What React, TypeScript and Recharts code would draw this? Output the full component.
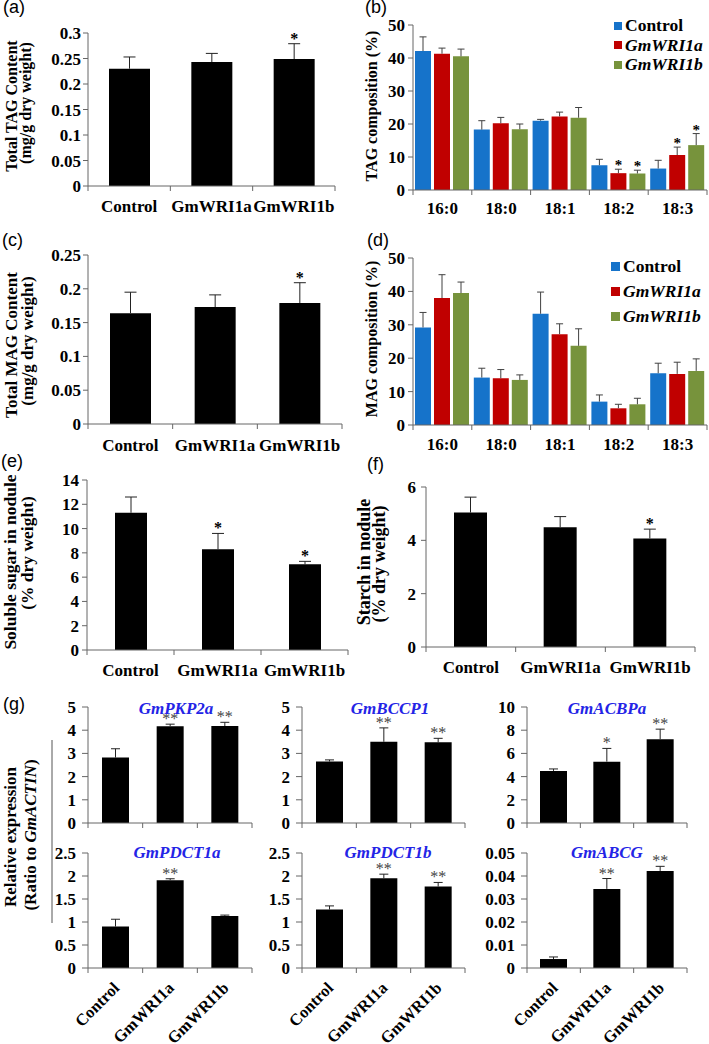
import React from "react";
import { BarChart, Bar, XAxis, YAxis, LabelList, Legend } from "recharts";

const SERIF = "'Liberation Serif', 'Times New Roman', Times, serif";
const SANS = "'Liberation Sans', Arial, Helvetica, sans-serif";
const AXIS = "#666";

// ---------- categories ----------
const genotypes = ["Control", "GmWRI1a", "GmWRI1b"];
const fattyAcids = ["16:0", "18:0", "18:1", "18:2", "18:3"];
const seriesColors = ["#1673CA", "#C00000", "#77933C"];

// ---------- (a) total TAG ----------
const tagTotal = [0.23, 0.243, 0.249];
const tagTotalErr = [0.023, 0.017, 0.03];
const tagTotalSig = ["", "", "*"];
const tagTicks = [0, 0.05, 0.1, 0.15, 0.2, 0.25, 0.3];

// ---------- (b) TAG composition ----------
const tagCtrl = [42.1, 18.3, 21.0, 7.5, 6.5];
const tagCtrlErr = [4.3, 2.7, 0.4, 1.8, 2.5];
const tagCtrlSig = ["", "", "", "", ""];
const tagWa = [41.3, 20.2, 22.3, 5.1, 10.6];
const tagWaErr = [1.7, 1.8, 1.3, 1.2, 2.4];
const tagWaSig = ["", "", "", "*", "*"];
const tagWb = [40.5, 18.4, 21.9, 5.0, 13.6];
const tagWbErr = [2.2, 1.6, 3.1, 1.0, 3.5];
const tagWbSig = ["", "", "", "*", "*"];
const pctTicks = [0, 10, 20, 30, 40, 50];

// ---------- (c) total MAG ----------
const magTotal = [0.164, 0.173, 0.179];
const magTotalErr = [0.031, 0.018, 0.03];
const magTotalSig = ["", "", "*"];
const magTicks = [0, 0.05, 0.1, 0.15, 0.2, 0.25];

// ---------- (d) MAG composition ----------
const magCtrl = [29.2, 14.2, 33.3, 7.0, 15.5];
const magCtrlErr = [4.5, 2.8, 6.5, 2.0, 3.0];
const magCtrlSig = ["", "", "", "", ""];
const magWa = [38.0, 14.0, 27.2, 5.0, 15.3];
const magWaErr = [7.0, 2.6, 3.1, 1.2, 3.5];
const magWaSig = ["", "", "", "", ""];
const magWb = [39.5, 13.5, 23.7, 6.2, 16.2];
const magWbErr = [3.3, 1.5, 5.1, 1.8, 3.6];
const magWbSig = ["", "", "", "", ""];

// ---------- (e) soluble sugar ----------
const sugar = [11.3, 8.3, 7.06];
const sugarErr = [1.3, 1.3, 0.24];
const sugarSig = ["", "*", "*"];
const sugarTicks = [0, 2, 4, 6, 8, 10, 12, 14];

// ---------- (f) starch ----------
const starch = [5.04, 4.49, 4.07];
const starchErr = [0.58, 0.4, 0.35];
const starchSig = ["", "", "*"];
const starchTicks = [0, 2, 4, 6];

// ---------- (g) relative expression ----------
const pkp2a = [2.82, 4.17, 4.18];
const pkp2aErr = [0.38, 0.09, 0.16];
const pkp2aSig = ["", "**", "**"];
const bccp1 = [2.65, 3.5, 3.48];
const bccp1Err = [0.07, 0.6, 0.17];
const bccp1Sig = ["", "**", "**"];
const acbpa = [4.49, 5.29, 7.23];
const acbpaErr = [0.17, 1.14, 0.86];
const acbpaSig = ["", "*", "**"];
const pdct1a = [0.9, 1.91, 1.13];
const pdct1aErr = [0.16, 0.03, 0.02];
const pdct1aSig = ["", "**", ""];
const pdct1b = [1.27, 1.95, 1.77];
const pdct1bErr = [0.08, 0.09, 0.09];
const pdct1bSig = ["", "**", "**"];
const abcg = [0.0039, 0.0344, 0.0422];
const abcgErr = [0.0009, 0.0045, 0.002];
const abcgSig = ["", "**", "**"];
const ticks5 = [0, 1, 2, 3, 4, 5];
const ticks10 = [0, 2, 4, 6, 8, 10];
const ticks25 = [0, 0.5, 1, 1.5, 2, 2.5];
const ticks05 = [0, 0.01, 0.02, 0.03, 0.04, 0.05];

// ---------- helpers ----------
type Plot = { l: number; r: number; t: number; b: number };
const TOPM = 20;
const TICK_FONT = { fill: "#000", fontSize: 17, fontWeight: 700, fontFamily: SERIF };

const singleRows = (cats: string[], v: number[], e: number[], s: string[]) =>
  cats.map((name, i) => ({ name, v: v[i], e: e[i], s: s[i] }));

const multiRows = (
  cats: string[],
  c: number[], ce: number[], cs: string[],
  a: number[], ae: number[], as: string[],
  b: number[], be: number[], bs: string[]
) =>
  cats.map((name, i) => ({
    name,
    c: c[i], ce: ce[i], cs: cs[i],
    a: a[i], ae: ae[i], as: as[i],
    b: b[i], be: be[i], bs: bs[i],
  }));

type WOpts = { stroke: string; cap: number; starSize: number; starWeight: number; starColor: string; starDy: number };

function whisker(rows: any[], vKey: string, eKey: string, sKey: string, o: WOpts) {
  return (p: any) => {
    const vb = p.viewBox && p.viewBox.width !== undefined ? p.viewBox : p;
    const x = Number(vb.x), y = Number(vb.y), w = Number(vb.width), h = Number(vb.height);
    const r = rows[p.index];
    if (!r || !isFinite(x) || !isFinite(y)) return null;
    const v = r[vKey], e = r[eKey], s = r[sKey];
    const k = v ? h / v : 0;
    const top = y - e * k;
    const cx = x + w / 2;
    return (
      <g>
        <line x1={cx} y1={y} x2={cx} y2={top} stroke={o.stroke} strokeWidth={1} />
        <line x1={cx - o.cap} y1={top} x2={cx + o.cap} y2={top} stroke={o.stroke} strokeWidth={1} />
        {s ? (
          <text x={cx} y={top + o.starDy} textAnchor="middle" fill={o.starColor}
            style={{ fontFamily: SERIF, fontSize: o.starSize, fontWeight: o.starWeight }}>
            {s}
          </text>
        ) : null}
      </g>
    );
  };
}

function makeCatTick(bw: number, n: number, mode: "none" | "flat" | "rot", dy: number) {
  return (p: any) => {
    const x = Number(p.x), y = Number(p.y);
    const i = p.index;
    const label = p.payload ? p.payload.value : "";
    const flat = { fontFamily: SERIF, fontSize: 17, fontWeight: 700 } as React.CSSProperties;
    const rot = { fontFamily: SERIF, fontSize: 16.5, fontWeight: 700 } as React.CSSProperties;
    return (
      <g>
        <line x1={x - bw / 2} y1={y} x2={x - bw / 2} y2={y + 5} stroke={AXIS} />
        {i === n - 1 ? <line x1={x + bw / 2} y1={y} x2={x + bw / 2} y2={y + 5} stroke={AXIS} /> : null}
        {mode === "flat" ? (
          <text x={x} y={y + dy} textAnchor="middle" fill="#000" style={flat}>{label}</text>
        ) : null}
        {mode === "rot" ? (
          <text transform={`translate(${x + 5},${y + 21}) rotate(-45)`} textAnchor="end" fill="#000" style={rot}>
            {label}
          </text>
        ) : null}
      </g>
    );
  };
}

type SingleProps = {
  plot: Plot; rows: any[]; domain: [number, number]; ticks: number[];
  barSize: number; yW: number; xH: number; mode: "none" | "flat" | "rot"; dy: number;
  tickSize: number; tickMargin: number; w: WOpts;
};

function SinglePanel(P: SingleProps) {
  const pw = P.plot.r - P.plot.l, ph = P.plot.b - P.plot.t;
  const rightM = 4;
  const width = P.yW + pw + rightM;
  const height = TOPM + ph + P.xH;
  const bw = pw / P.rows.length;
  return (
    <div style={{ position: "absolute", left: P.plot.l - P.yW, top: P.plot.t - TOPM }}>
      <BarChart width={width} height={height} data={P.rows} margin={{ top: TOPM, right: rightM, bottom: 0, left: 0 }}>
        <XAxis dataKey="name" interval={0} height={P.xH} axisLine={{ stroke: AXIS }} tickLine={false}
          tickSize={0} tickMargin={0} tick={makeCatTick(bw, P.rows.length, P.mode, P.dy)} />
        <YAxis type="number" domain={P.domain} ticks={P.ticks} interval={0} width={P.yW}
          tickSize={P.tickSize} tickMargin={P.tickMargin} axisLine={{ stroke: AXIS }} tickLine={{ stroke: AXIS }}
          tick={TICK_FONT} />
        <Bar dataKey="v" fill="#000" barSize={P.barSize} isAnimationActive={false}>
          <LabelList dataKey="v" content={whisker(P.rows, "v", "e", "s", P.w)} />
        </Bar>
      </BarChart>
    </div>
  );
}

type MultiProps = {
  plot: Plot; rows: any[]; dy: number; legendLeft: number; legendTop: number; rowH: number; sq: number;
};

const wColor: WOpts = { stroke: "#404040", cap: 3.5, starSize: 15, starWeight: 700, starColor: "#000", starDy: 1 };

function MultiPanel(P: MultiProps) {
  const yW = 60;
  const rightM = 2;
  const pw = P.plot.r - P.plot.l, ph = P.plot.b - P.plot.t;
  const width = yW + pw + rightM;
  const height = TOPM + ph + 40;
  const bw = pw / P.rows.length;
  const keys = ["c", "a", "b"];
  const legend = () => (
    <div style={{ fontFamily: SERIF, fontWeight: 700, fontSize: 17.5, color: "#000" }}>
      {genotypes.map((nm, i) => (
        <div key={nm} style={{ display: "flex", alignItems: "center", height: P.rowH, whiteSpace: "nowrap" }}>
          <span style={{ display: "inline-block", width: P.sq, height: P.sq, background: seriesColors[i], marginRight: 3 }} />
          <span style={{ fontStyle: i === 0 ? "normal" : "italic" }}>{nm}</span>
        </div>
      ))}
    </div>
  );
  return (
    <div style={{ position: "absolute", left: P.plot.l - yW, top: P.plot.t - TOPM }}>
      <BarChart width={width} height={height} data={P.rows} barGap={3} barCategoryGap={2}
        margin={{ top: TOPM, right: rightM, bottom: 0, left: 0 }}>
        <XAxis dataKey="name" interval={0} height={40} axisLine={{ stroke: AXIS }} tickLine={false}
          tickSize={0} tickMargin={0} tick={makeCatTick(bw, P.rows.length, "flat", P.dy)} />
        <YAxis type="number" domain={[0, 50]} ticks={pctTicks} interval={0} width={yW}
          tickSize={5} tickMargin={3} axisLine={{ stroke: AXIS }} tickLine={{ stroke: AXIS }}
          tick={TICK_FONT} />
        <Legend layout="vertical" align="center" verticalAlign="middle" content={legend}
          wrapperStyle={{ left: P.legendLeft, top: P.legendTop, width: 110 }} />
        {keys.map((k, i) => (
          <Bar key={k} dataKey={k} name={genotypes[i]} fill={seriesColors[i]} barSize={16} isAnimationActive={false}>
            <LabelList dataKey={k} content={whisker(P.rows, k, k + "e", k + "s", wColor)} />
          </Bar>
        ))}
      </BarChart>
    </div>
  );
}

const wBlack: WOpts = { stroke: "#222", cap: 6, starSize: 16, starWeight: 700, starColor: "#000", starDy: 0 };
const wG: WOpts = { stroke: "#222", cap: 4.5, starSize: 16, starWeight: 400, starColor: "#444", starDy: 0 };

const gCols = [
  { l: 88, r: 252 },
  { l: 302, r: 465 },
  { l: 527, r: 687 },
];
const gRow1 = { t: 707, b: 823 };
const gRow2 = { t: 853, b: 968 };

const gCharts = [
  { col: 0, row: 1, v: pkp2a, e: pkp2aErr, s: pkp2aSig, dom: [0, 5] as [number, number], ticks: ticks5, title: "GmPKP2a", tx: 176 },
  { col: 1, row: 1, v: bccp1, e: bccp1Err, s: bccp1Sig, dom: [0, 5] as [number, number], ticks: ticks5, title: "GmBCCP1", tx: 390 },
  { col: 2, row: 1, v: acbpa, e: acbpaErr, s: acbpaSig, dom: [0, 10] as [number, number], ticks: ticks10, title: "GmACBPa", tx: 607 },
  { col: 0, row: 2, v: pdct1a, e: pdct1aErr, s: pdct1aSig, dom: [0, 2.5] as [number, number], ticks: ticks25, title: "GmPDCT1a", tx: 177 },
  { col: 1, row: 2, v: pdct1b, e: pdct1bErr, s: pdct1bSig, dom: [0, 2.5] as [number, number], ticks: ticks25, title: "GmPDCT1b", tx: 388 },
  { col: 2, row: 2, v: abcg, e: abcgErr, s: abcgSig, dom: [0, 0.05] as [number, number], ticks: ticks05, title: "GmABCG", tx: 607 },
];

const boldSerif = (size: number): React.CSSProperties => ({ fontFamily: SERIF, fontWeight: 700, fontSize: size });

function RotLabel({ x, y, size, children }: { x: number; y: number; size: number; children: React.ReactNode }) {
  return (
    <text transform={`translate(${x},${y}) rotate(-90)`} textAnchor="middle" fill="#000" style={boldSerif(size)}>
      {children}
    </text>
  );
}

export default function App() {
  return (
    <div style={{ position: "absolute", left: 0, top: 0, width: 709, height: 1044, background: "#fff", overflow: "hidden" }}>
      {/* (a) */}
      <SinglePanel plot={{ l: 88, r: 335, t: 33, b: 186 }} rows={singleRows(genotypes, tagTotal, tagTotalErr, tagTotalSig)}
        domain={[0, 0.3]} ticks={tagTicks} barSize={41} yW={60} xH={40} mode="flat" dy={26}
        tickSize={5} tickMargin={2} w={wBlack} />
      {/* (b) */}
      <MultiPanel plot={{ l: 413, r: 707, t: 25, b: 190 }}
        rows={multiRows(fattyAcids, tagCtrl, tagCtrlErr, tagCtrlSig, tagWa, tagWaErr, tagWaSig, tagWb, tagWbErr, tagWbSig)}
        dy={24} legendLeft={261} legendTop={11} rowH={19.6} sq={8} />
      {/* (c) */}
      <SinglePanel plot={{ l: 88, r: 342, t: 255, b: 424 }} rows={singleRows(genotypes, magTotal, magTotalErr, magTotalSig)}
        domain={[0, 0.25]} ticks={magTicks} barSize={41} yW={60} xH={40} mode="flat" dy={27}
        tickSize={5} tickMargin={2} w={wBlack} />
      {/* (d) */}
      <MultiPanel plot={{ l: 413, r: 707, t: 258, b: 425 }}
        rows={multiRows(fattyAcids, magCtrl, magCtrlErr, magCtrlSig, magWa, magWaErr, magWaSig, magWb, magWbErr, magWbSig)}
        dy={25} legendLeft={258} legendTop={16} rowH={25} sq={9} />
      {/* (e) */}
      <SinglePanel plot={{ l: 87, r: 348, t: 480, b: 650 }} rows={singleRows(genotypes, sugar, sugarErr, sugarSig)}
        domain={[0, 14]} ticks={sugarTicks} barSize={32} yW={60} xH={40} mode="flat" dy={26}
        tickSize={5} tickMargin={3} w={wBlack} />
      {/* (f) */}
      <SinglePanel plot={{ l: 426, r: 695, t: 487, b: 647 }} rows={singleRows(genotypes, starch, starchErr, starchSig)}
        domain={[0, 6]} ticks={starchTicks} barSize={33} yW={60} xH={40} mode="flat" dy={26}
        tickSize={5} tickMargin={5} w={wBlack} />
      {/* (g) */}
      {gCharts.map((g) => {
        const col = gCols[g.col];
        const row = g.row === 1 ? gRow1 : gRow2;
        return (
          <SinglePanel key={g.title} plot={{ l: col.l, r: col.r, t: row.t, b: row.b }}
            rows={singleRows(genotypes, g.v, g.e, g.s)} domain={g.dom} ticks={g.ticks} barSize={27} yW={50}
            xH={g.row === 1 ? 12 : 80} mode={g.row === 1 ? "none" : "rot"} dy={0}
            tickSize={6} tickMargin={6} w={wG} />
        );
      })}

      <svg width={709} height={1044} style={{ position: "absolute", left: 0, top: 0, pointerEvents: "none" }}>
        {/* panel letters */}
        <g style={{ fontFamily: SANS, fontSize: 18 }} fill="#000">
          <text x={3} y={13}>(a)</text>
          <text x={365} y={13}>(b)</text>
          <text x={2} y={246}>(c)</text>
          <text x={367} y={246}>(d)</text>
          <text x={1} y={467}>(e)</text>
          <text x={367} y={470}>(f)</text>
          <text x={3} y={710}>(g)</text>
        </g>
        {/* axis titles */}
        <RotLabel x={17} y={106} size={16}>Total TAG Content</RotLabel>
        <RotLabel x={31} y={103} size={16}>(mg/g dry weight)</RotLabel>
        <RotLabel x={377} y={106} size={16}>TAG composition (%)</RotLabel>
        <RotLabel x={17} y={345} size={17}>Total MAG Content</RotLabel>
        <RotLabel x={33} y={341} size={17}>(mg/g dry weight)</RotLabel>
        <RotLabel x={377} y={339} size={16}>MAG composition (%)</RotLabel>
        <RotLabel x={16} y={562} size={17.5}>Soluble sugar in nodule</RotLabel>
        <RotLabel x={33} y={553} size={17.5}>(% dry weight)</RotLabel>
        <RotLabel x={370} y={562} size={18}>Starch in nodule</RotLabel>
        <RotLabel x={385} y={564} size={18}>(% dry weight)</RotLabel>
        <RotLabel x={16} y={837} size={17}>Relative expression</RotLabel>
        <RotLabel x={36} y={835} size={17}>
          (Ratio to <tspan style={{ fontStyle: "italic" }}>GmACTIN</tspan>)
        </RotLabel>
        <line x1={52} y1={740} x2={52} y2={923} stroke="#555" strokeWidth={1} />
        {/* gene titles */}
        {gCharts.map((g) => (
          <text key={g.title} x={g.tx} y={g.row === 1 ? 714 : 858} textAnchor="middle" fill="#2424E6"
            style={{ fontFamily: SERIF, fontWeight: 700, fontStyle: "italic", fontSize: 17 }}>
            {g.title}
          </text>
        ))}
      </svg>
    </div>
  );
}
